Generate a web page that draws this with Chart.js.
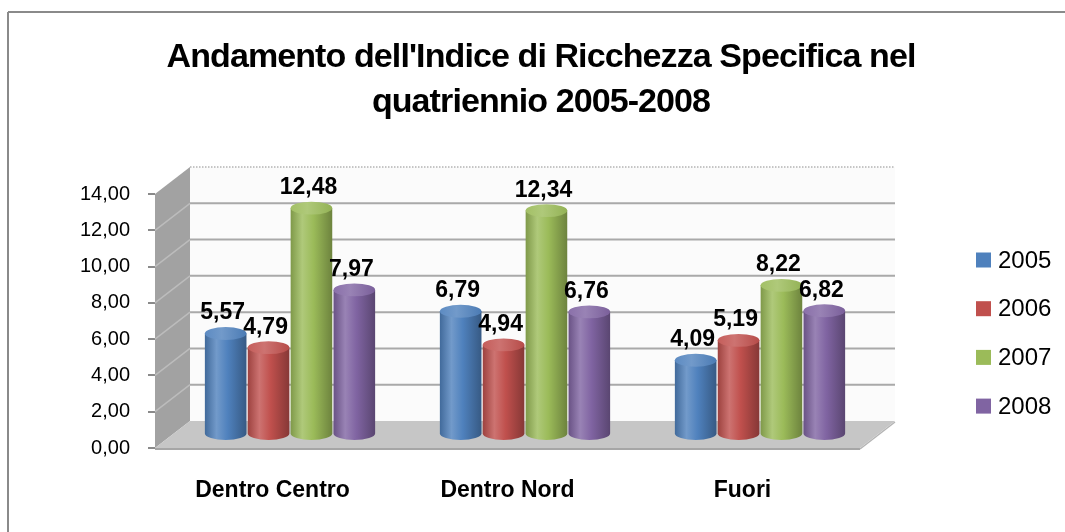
<!DOCTYPE html>
<html>
<head>
<meta charset="utf-8">
<title>Indice di Ricchezza Specifica 2005-2008</title>
<script src="https://cdn.jsdelivr.net/npm/chart.js@4.4.1/dist/chart.umd.min.js"></script>
<style>
  html, body { margin: 0; padding: 0; background: #fff; }
  #wrap { width: 1065px; height: 532px; }
</style>
</head>
<body>
<div id="wrap"><canvas id="chart"></canvas></div>
<script>
// --- data ---
const categories = ['Dentro Centro', 'Dentro Nord', 'Fuori']
const years = ['2005', '2006', '2007', '2008']
const values2005 = [5.57, 6.79, 4.09]
const values2006 = [4.79, 4.94, 5.19]
const values2007 = [12.48, 12.34, 8.22]
const values2008 = [7.97, 6.76, 6.82]
const yMin = 0, yMax = 14, yStep = 2
const titleLines = ["Andamento dell'Indice di Ricchezza Specifica nel", 'quatriennio 2005-2008']

const seriesColors = ['#4F81BD', '#C0504D', '#9BBB59', '#8064A2']
const FONT = '"Liberation Sans", Arial, sans-serif'

// depth of the 3D box (back wall offset from the front plane)
const DEPTH = { dx: 35, dy: -27 }

const fmt = v => Number(v).toFixed(2).replace('.', ',')

// f < 1 darkens towards black, f > 1 lightens towards white
function shade(hex, f) {
  const n = parseInt(hex.slice(1), 16)
  const ch = [n >> 16, (n >> 8) & 255, n & 255]
  const m = c => Math.round(f <= 1 ? c * f : c + (255 - c) * (f - 1))
  return `rgb(${ch.map(m).join(',')})`
}

function poly(ctx, pts, fill) {
  ctx.beginPath()
  pts.forEach(([px, py], i) => i ? ctx.lineTo(px, py) : ctx.moveTo(px, py))
  ctx.closePath()
  ctx.fillStyle = fill
  ctx.fill()
}

function line(ctx, x1, y1, x2, y2, color, width) {
  ctx.beginPath()
  ctx.moveTo(x1, y1)
  ctx.lineTo(x2, y2)
  ctx.strokeStyle = color
  ctx.lineWidth = width
  ctx.stroke()
}

function drawCylinder(ctx, bar, color) {
  const { dx, dy } = DEPTH
  const cx = bar.x + dx / 2
  const rx = bar.width / 2, ry = rx * 0.31
  const top = bar.y + dy / 2, base = bar.base + dy / 2

  const g = ctx.createLinearGradient(cx - rx, 0, cx + rx, 0)
  g.addColorStop(0, shade(color, 0.82))
  g.addColorStop(0.28, shade(color, 1.2))
  g.addColorStop(0.55, color)
  g.addColorStop(1, shade(color, 0.7))

  ctx.beginPath()
  ctx.moveTo(cx - rx, top)
  ctx.lineTo(cx - rx, base)
  ctx.ellipse(cx, base, rx, ry, 0, Math.PI, 0, true)
  ctx.lineTo(cx + rx, top)
  ctx.closePath()
  ctx.fillStyle = g
  ctx.fill()

  const cap = ctx.createLinearGradient(cx - rx, 0, cx + rx, 0)
  cap.addColorStop(0, shade(color, 1.08))
  cap.addColorStop(0.4, shade(color, 1.2))
  cap.addColorStop(1, shade(color, 0.95))
  ctx.beginPath()
  ctx.ellipse(cx, top, rx, ry, 0, 0, Math.PI * 2)
  ctx.fillStyle = cap
  ctx.fill()
}

const box3d = {
  id: 'box3d',
  beforeDraw(chart) {
    const { ctx, width, height } = chart
    ctx.save()
    ctx.fillStyle = '#fff'
    ctx.fillRect(0, 0, width, height)
    // outer chart border (runs off the right and bottom edges)
    line(ctx, 8, 12, width + 5, 12, '#8a8a8a', 2)
    line(ctx, 8, 12, 8, height + 5, '#8a8a8a', 2)
    ctx.restore()
  },
  beforeDatasetsDraw(chart) {
    const { ctx, chartArea: a, scales: { y } } = chart
    const { dx, dy } = DEPTH
    const y0 = y.getPixelForValue(yMin), yT = y.getPixelForValue(yMax)
    ctx.save()

    // back wall
    ctx.fillStyle = '#fbfbfb'
    ctx.fillRect(a.left + dx, yT + dy, a.right - a.left, y0 - yT)
    // left side wall
    poly(ctx, [[a.left, yT], [a.left + dx, yT + dy], [a.left + dx, y0 + dy], [a.left, y0]], '#a2a2a2')

    // gridlines on back and side walls
    y.ticks.forEach(t => {
      if (t.value === yMin || t.value === yMax) return
      const py = y.getPixelForValue(t.value)
      line(ctx, a.left + dx, py + dy, a.right + dx, py + dy, '#a9a9a9', 2)
      line(ctx, a.left, py, a.left + dx, py + dy, '#bcbcbc', 1.5)
    })
    ctx.setLineDash([1.5, 1.5])
    line(ctx, a.left + dx, yT + dy, a.right + dx, yT + dy, '#b4b4b4', 1.5)
    ctx.setLineDash([])

    // floor
    poly(ctx, [[a.left, y0], [a.right, y0], [a.right + dx, y0 + dy], [a.left + dx, y0 + dy]], '#c6c6c6')
    line(ctx, a.left, y0 + 1, a.right, y0 + 1, '#a6a6a6', 2)
    line(ctx, a.right, y0 + 1, a.right + dx, y0 + dy + 1, '#b4b4b4', 1.5)

    // cylinders
    chart.data.datasets.forEach((ds, di) => {
      chart.getDatasetMeta(di).data.forEach(bar => drawCylinder(ctx, bar, ds.backgroundColor))
    })
    ctx.restore()
    return false
  },
  afterDraw(chart) {
    const { ctx, chartArea: a } = chart
    const { dx, dy } = DEPTH
    ctx.save()

    // value labels above the cylinders
    ctx.font = `bold 23px ${FONT}`
    ctx.fillStyle = '#000'
    ctx.textAlign = 'center'
    ctx.textBaseline = 'alphabetic'
    chart.data.datasets.forEach((ds, di) => {
      chart.getDatasetMeta(di).data.forEach((bar, i) => {
        ctx.fillText(fmt(ds.data[i]), bar.x + dx / 2 - 3, bar.y + dy / 2 - 14)
      })
    })

    // title
    ctx.font = `bold 34px ${FONT}`
    ctx.letterSpacing = '-0.9px'
    ctx.fillText(titleLines[0], 541, 67)
    ctx.fillText(titleLines[1], 541, 112)
    ctx.letterSpacing = '0px'

    // legend
    ctx.font = `24px ${FONT}`
    ctx.textAlign = 'left'
    ctx.textBaseline = 'middle'
    const lx = a.right + 116
    chart.data.datasets.forEach((ds, i) => {
      const cy = 260 + i * 48.7
      ctx.fillStyle = ds.backgroundColor
      ctx.fillRect(lx, cy - 7.5, 15, 15)
      ctx.fillStyle = '#000'
      ctx.fillText(ds.label, lx + 22, cy + 1)
    })
    ctx.restore()
  },
}

const seriesValues = [values2005, values2006, values2007, values2008]

new Chart(document.getElementById('chart'), {
  type: 'bar',
  data: {
    labels: categories,
    datasets: years.map((yr, i) => ({
      label: yr,
      data: seriesValues[i],
      backgroundColor: seriesColors[i],
      borderWidth: 0,
      categoryPercentage: 0.73,
      barPercentage: 0.97,
    })),
  },
  options: {
    responsive: true,
    maintainAspectRatio: false,
    animation: false,
    layout: { padding: { top: 194, left: 80, right: 205, bottom: 24 } },
    scales: {
      x: {
        grid: { display: false, drawTicks: false },
        border: { display: false },
        ticks: { color: '#000', padding: 29, font: { family: FONT, size: 23, weight: 'bold' } },
        afterFit: s => { s.height = 60 },
      },
      y: {
        min: yMin, max: yMax,
        grid: { drawOnChartArea: false, tickLength: 7, color: '#8a8a8a', lineWidth: 2 },
        border: { display: false },
        ticks: {
          stepSize: yStep, color: '#000', padding: 18,
          font: { family: FONT, size: 20 },
          callback: v => fmt(v),
        },
        afterFit: s => { s.width = 75 },
      },
    },
    plugins: {
      legend: { display: false },
      tooltip: { enabled: false },
    },
  },
  plugins: [box3d],
})
</script>
</body>
</html>
